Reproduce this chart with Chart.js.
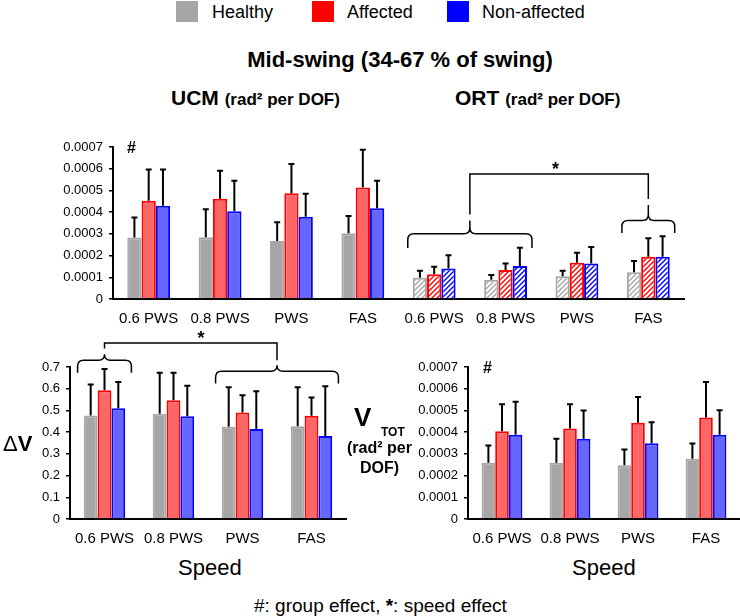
<!DOCTYPE html>
<html>
<head>
<meta charset="utf-8">
<script src="https://cdn.jsdelivr.net/npm/chart.js@4.4.0/dist/chart.umd.min.js"></script>
<style>
  body { margin: 0; width: 740px; height: 616px; position: relative; background: #fff; overflow: hidden;
         font-family: "Liberation Sans", Arial, sans-serif; color: #000; }
  .t { position: absolute; white-space: nowrap; line-height: 1; z-index: 2; }
  .b { font-weight: bold; }
  .sq { position: absolute; width: 22px; height: 21px; }
  canvas { position: absolute; z-index: 1; }
</style>
</head>
<body>
<!-- shared legend -->
<div class="sq" style="left:176px;top:1px;background:#a6a6a6"></div>
<div class="t" style="left:212px;top:3px;font-size:18px">Healthy</div>
<div class="sq" style="left:312px;top:1px;background:#ff0000"></div>
<div class="t" style="left:347px;top:3px;font-size:18px">Affected</div>
<div class="sq" style="left:447px;top:1px;background:#0000ff"></div>
<div class="t" style="left:482px;top:3px;font-size:18px">Non-affected</div>

<div class="t b" style="left:150px;width:500px;text-align:center;top:49px;font-size:22px">Mid-swing (34-67 % of swing)</div>
<div class="t b" style="left:171px;top:87px;font-size:21px">UCM <span style="font-size:17px">(rad² per DOF)</span></div>
<div class="t b" style="left:455px;top:87px;font-size:21px">ORT <span style="font-size:17px">(rad² per DOF)</span></div>
<div class="t b" style="left:127px;top:140px;font-size:16px">#</div>

<div class="t" style="left:3px;top:433px;font-size:22px">Δ<span class="b">V</span></div>

<div class="t b" style="left:354px;top:404px;font-size:26px">V</div>
<div class="t b" style="left:381px;top:426px;font-size:12px">TOT</div>
<div class="t b" style="left:347px;top:440px;font-size:16px">(rad² per</div>
<div class="t b" style="left:360px;top:460px;font-size:16px">DOF)</div>
<div class="t b" style="left:483px;top:360px;font-size:16px">#</div>

<div class="t" style="left:178px;top:557px;font-size:22px">Speed</div>
<div class="t" style="left:572px;top:557px;font-size:22px">Speed</div>
<div class="t" style="left:254px;top:596px;font-size:19px">#: group effect, <span class="b">*</span>: speed effect</div>

<canvas id="top" width="740" height="200" style="left:0;top:130px"></canvas>
<canvas id="dv" width="370" height="230" style="left:0;top:325px"></canvas>
<canvas id="vtot" width="370" height="230" style="left:370px;top:325px"></canvas>

<script>
// ---- data ----
const speeds = ['0.6 PWS', '0.8 PWS', 'PWS', 'FAS'];
const topCategories = speeds.concat(speeds);   // UCM block, then ORT block

// UCM (first 4) + ORT (last 4), rad^2 per DOF
const healthyTop     = [0.000283, 0.000284, 0.000267, 0.000303, 0.000098, 0.000089, 0.000105, 0.000123];
const healthyTopSD   = [0.000092, 0.000129, 0.000086, 0.000079, 0.000032, 0.000021, 0.000025, 0.000052];
const affectedTop    = [0.000453, 0.000462, 0.000487, 0.000513, 0.000114, 0.000134, 0.000167, 0.000194];
const affectedTopSD  = [0.000143, 0.000129, 0.000135, 0.000174, 0.000035, 0.000030, 0.000046, 0.000086];
const nonAffTop      = [0.000429, 0.000404, 0.000379, 0.000418, 0.000141, 0.000152, 0.000164, 0.000194];
const nonAffTopSD    = [0.000167, 0.000140, 0.000106, 0.000127, 0.000060, 0.000084, 0.000076, 0.000095];

// Delta V
const healthyDV      = [0.477, 0.485, 0.425, 0.427];
const healthyDVSD    = [0.142, 0.188, 0.182, 0.180];
const affectedDV     = [0.593, 0.547, 0.490, 0.476];
const affectedDVSD   = [0.098, 0.126, 0.080, 0.084];
const nonAffDV       = [0.510, 0.473, 0.415, 0.382];
const nonAffDVSD     = [0.121, 0.141, 0.173, 0.229];

// V_TOT
const healthyVT      = [0.000259, 0.000259, 0.000248, 0.000278];
const healthyVTSD    = [0.000079, 0.000110, 0.000072, 0.000070];
const affectedVT     = [0.000404, 0.000417, 0.000443, 0.000468];
const affectedVTSD   = [0.000124, 0.000111, 0.000119, 0.000163];
const nonAffVT       = [0.000388, 0.000369, 0.000349, 0.000388];
const nonAffVTSD     = [0.000152, 0.000131, 0.000096, 0.000113];

const smallTicks = ['0', '0.0001', '0.0002', '0.0003', '0.0004', '0.0005', '0.0006', '0.0007'];
const dvTicks    = ['0', '0.1', '0.2', '0.3', '0.4', '0.5', '0.6', '0.7'];

// ---- styles ----
Chart.defaults.font.family = '"Liberation Sans", Arial, sans-serif';
Chart.defaults.color = '#000';

const GRAY = '#a6a6a6', RED_FILL = '#ff6666', RED = '#ff0000', BLUE_FILL = '#6666ff', BLUE = '#0000ff';

function hatch(color) {
    const s = 5;
    const c = document.createElement('canvas');
    c.width = s; c.height = s;
    const g = c.getContext('2d');
    g.fillStyle = '#fff';
    g.fillRect(0, 0, s, s);
    g.strokeStyle = color;
    g.lineWidth = 1.4;
    g.beginPath();
    g.moveTo(0, s); g.lineTo(s, 0);
    g.moveTo(-1, 1); g.lineTo(1, -1);
    g.moveTo(s - 1, s + 1); g.lineTo(s + 1, s - 1);
    g.stroke();
    return g.createPattern(c, 'repeat');
}

// error bars: upward only, small cap
const errorBars = {
    id: 'errorBars',
    afterDatasetsDraw(chart) {
        const { ctx } = chart;
        const y = chart.scales.y;
        ctx.save();
        ctx.strokeStyle = '#000';
        ctx.lineWidth = 2;
        chart.data.datasets.forEach((ds, di) => {
            chart.getDatasetMeta(di).data.forEach((bar, i) => {
                const top = y.getPixelForValue(ds.data[i] + ds.sd[i]);
                ctx.beginPath();
                ctx.moveTo(bar.x, bar.y);
                ctx.lineTo(bar.x, top);
                ctx.moveTo(bar.x - 3, top);
                ctx.lineTo(bar.x + 3, top);
                ctx.stroke();
            });
        });
        ctx.restore();
    }
};

// speed-effect braces: two curly braces joined by a bracket with a star
const speedBrackets = {
    id: 'speedBrackets',
    afterDraw(chart, args, o) {
        if (!o.braces) return;
        const { ctx } = chart;
        const x = chart.scales.x, y = chart.scales.y;
        const cw = x.getPixelForValue(1) - x.getPixelForValue(0);
        const r = 6;
        ctx.save();
        ctx.strokeStyle = '#000';
        ctx.lineWidth = 1.5;
        const mids = o.braces.map(b => {
            const x0 = x.getPixelForValue(b.from) - o.spread * cw;
            const x1 = x.getPixelForValue(b.to) + o.spread * cw;
            const xm = (x.getPixelForValue(b.from) + x.getPixelForValue(b.to)) / 2;
            const yE = y.getPixelForValue(b.end), yF = y.getPixelForValue(b.flat), yP = y.getPixelForValue(b.peak);
            ctx.beginPath();
            ctx.moveTo(x0, yE);
            ctx.lineTo(x0, yF + r);
            ctx.quadraticCurveTo(x0, yF, x0 + r, yF);
            ctx.lineTo(xm - r, yF);
            ctx.quadraticCurveTo(xm, yF, xm, yF - r);
            ctx.lineTo(xm, yP);
            ctx.moveTo(xm, yF - r);
            ctx.quadraticCurveTo(xm, yF, xm + r, yF);
            ctx.lineTo(x1 - r, yF);
            ctx.quadraticCurveTo(x1, yF, x1, yF + r);
            ctx.lineTo(x1, yE);
            ctx.stroke();
            return { xm, stem: yP - 6 };
        });
        const yb = y.getPixelForValue(o.bar);
        ctx.beginPath();
        ctx.moveTo(mids[0].xm, mids[0].stem);
        ctx.lineTo(mids[0].xm, yb);
        ctx.lineTo(mids[1].xm, yb);
        ctx.lineTo(mids[1].xm, mids[1].stem);
        ctx.stroke();
        ctx.fillStyle = '#000';
        ctx.font = 'bold 18px "Liberation Sans", Arial, sans-serif';
        ctx.textAlign = 'center';
        ctx.textBaseline = 'alphabetic';
        ctx.fillText('*', x.getPixelForValue(o.starAt), yb + 1);
        ctx.restore();
    }
};

function makeChart(id, labels, sets, tickLabels, max, step, box, brackets) {
    new Chart(document.getElementById(id), {
        type: 'bar',
        data: { labels, datasets: sets },
        options: {
            responsive: false,
            animation: false,
            layout: { padding: box.pad },
            datasets: { bar: { categoryPercentage: 0.6, barPercentage: 1 } },
            plugins: { legend: { display: false }, tooltip: { enabled: false }, speedBrackets: brackets || {} },
            scales: {
                x: {
                    grid: { display: false, drawTicks: false },
                    border: { color: '#000', width: 2 },
                    ticks: { font: { size: 15 }, padding: 11, maxRotation: 0, autoSkip: false },
                    afterFit: s => { s.height = box.xh; }
                },
                y: {
                    min: 0, max,
                    grid: { drawOnChartArea: false, color: '#000', tickLength: 4, lineWidth: 1.5 },
                    border: { color: '#000', width: 2 },
                    ticks: { stepSize: step, font: { size: 13 }, padding: 6, callback: (v, i) => tickLabels[i] },
                    afterFit: s => { s.width = box.yw; }
                }
            }
        },
        plugins: [errorBars, speedBrackets]
    });
}

function series(data, sd, fill, border, hatched, hatchColor) {
    const pat = hatched ? hatch(hatchColor) : null;
    return {
        data, sd,
        backgroundColor: c => (pat && c.dataIndex >= 4) ? pat : fill,
        borderColor: border,
        borderWidth: 2
    };
}

makeChart('top', topCategories, [
    series(healthyTop, healthyTopSD, GRAY, GRAY, true, GRAY),
    series(affectedTop, affectedTopSD, RED_FILL, RED, true, RED),
    series(nonAffTop, nonAffTopSD, BLUE_FILL, BLUE, true, BLUE)
], smallTicks, 0.0007, 0.0001,
{ pad: { left: 0, right: 56, top: 17, bottom: 0 }, yw: 113, xh: 31 },
{
    spread: 0.37, bar: 0.000576, starAt: 5.7,
    braces: [
        { from: 4, to: 5, end: 0.000235, flat: 0.000300, peak: 0.000361 },
        { from: 7, to: 7, end: 0.000304, flat: 0.000361, peak: 0.000433 }
    ]
});

makeChart('dv', speeds, [
    series(healthyDV, healthyDVSD, GRAY, GRAY),
    series(affectedDV, affectedDVSD, RED_FILL, RED),
    series(nonAffDV, nonAffDVSD, BLUE_FILL, BLUE)
], dvTicks, 0.7, 0.1,
{ pad: { left: 0, right: 24, top: 42, bottom: 0 }, yw: 70, xh: 36 },
{
    spread: 0.39, bar: 0.811, starAt: 1.4,
    braces: [
        { from: 0, to: 0, end: 0.673, flat: 0.731, peak: 0.757 },
        { from: 2, to: 3, end: 0.624, flat: 0.680, peak: 0.703 }
    ]
});

makeChart('vtot', speeds, [
    series(healthyVT, healthyVTSD, GRAY, GRAY),
    series(affectedVT, affectedVTSD, RED_FILL, RED),
    series(nonAffVT, nonAffVTSD, BLUE_FILL, BLUE)
], smallTicks, 0.0007, 0.0001,
{ pad: { left: 0, right: 0, top: 42, bottom: 0 }, yw: 98, xh: 36 });
</script>
</body>
</html>
